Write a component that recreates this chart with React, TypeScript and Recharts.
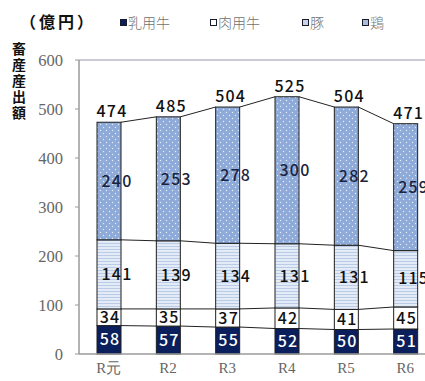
import React from "react";
import { BarChart, Bar, XAxis, YAxis, LabelList, ReferenceLine } from "recharts";

const categories = ["R元", "R2", "R3", "R4", "R5", "R6"];
const dairy = [58, 57, 55, 52, 50, 51];
const beef = [34, 35, 37, 42, 41, 45];
const pork = [141, 139, 134, 131, 131, 115];
const chicken = [240, 253, 278, 300, 282, 259];
const totals = [474, 485, 504, 525, 504, 471];
const yTicks = [0, 100, 200, 300, 400, 500, 600];
const seriesNames = ["乳用牛", "肉用牛", "豚", "鶏"];
const KEYS = ["dairy", "beef", "pork", "chicken"];

const data = categories.map((c, i) => ({
  name: c,
  dairy: dairy[i],
  beef: beef[i],
  pork: pork[i],
  chicken: chicken[i],
  total: totals[i],
}));

const CHART_W = 440;
const CHART_H = 381;
const MARGIN = { top: 60, right: 5, bottom: 0, left: 0 };
const Y_W = 79;
const BAND = (CHART_W - MARGIN.left - MARGIN.right - Y_W) / categories.length;

const SERIF = "'Liberation Serif', 'DejaVu Serif', serif";

const cum = (row: any, idx: number) => {
  let s = 0;
  for (let j = 0; j <= idx; j++) s += row[KEYS[j]];
  return s;
};

const makeShape = (keyIdx: number, fill: string) => (props: any) => {
  const { x, y, width, height, payload } = props;
  const idx = categories.indexOf(payload.name);
  const row = data[idx];
  const v = row[KEYS[keyIdx]];
  const k = height / v;
  const next = data[idx + 1];
  let line = null;
  if (next) {
    const dy = (cum(next, keyIdx) - cum(row, keyIdx)) * k;
    line = (
      <line x1={x + width} y1={y} x2={x + BAND} y2={y - dy} stroke="#222" strokeWidth={1} />
    );
  }
  return (
    <g>
      <rect x={x} y={y} width={width} height={height} fill={fill} stroke="#1e1e1e" strokeWidth={1} />
      {line}
    </g>
  );
};

const XTick = (props: any) => {
  const { x, y, payload } = props;
  return (
    <text
      x={x}
      y={y}
      dy={11}
      textAnchor="middle"
      style={{ fontFamily: SERIF, fontSize: 15, fill: "#666" }}
    >
      {payload.value}
    </text>
  );
};

const YTick = (props: any) => {
  const { x, y, payload } = props;
  return (
    <text
      x={x}
      y={y}
      dy={5.5}
      textAnchor="end"
      style={{ fontFamily: SERIF, fontSize: 16.5, fill: "#666" }}
    >
      {payload.value}
    </text>
  );
};

const labelFont = {
  fontFamily: "'Noto Sans CJK JP', 'Noto Sans', sans-serif",
  fontSize: 16,
  fontWeight: 500,
  letterSpacing: 1.2,
};

const legendItems = [
  { name: seriesNames[0], left: 120, fill: "#0b1f5c" },
  { name: seriesNames[1], left: 210, fill: "#ffffff" },
  { name: seriesNames[2], left: 302, fill: "#c9d6ea" },
  { name: seriesNames[3], left: 362, fill: "#a9bcdc" },
];

export default function App() {
  return (
    <div
      style={{
        position: "absolute",
        left: 0,
        top: 0,
        width: 425,
        height: 381,
        overflow: "hidden",
        background: "#fff",
      }}
    >
      <svg width={0} height={0} style={{ position: "absolute" }}>
        <defs>
          <pattern id="dots" width={6} height={6} patternUnits="userSpaceOnUse">
            <rect width={6} height={6} fill="#8eaad8" />
            <circle cx={1.5} cy={1.5} r={0.7} fill="#e8eef8" />
            <circle cx={4.5} cy={4.5} r={0.7} fill="#e8eef8" />
          </pattern>
          <pattern id="stripes" width={6} height={3} patternUnits="userSpaceOnUse">
            <rect width={6} height={3} fill="#e3ebf6" />
            <rect y={0} width={6} height={1} fill="#b9cbe6" />
          </pattern>
        </defs>
      </svg>

      {/* unit label */}
      <div
        style={{
          position: "absolute",
          left: 20,
          top: 11,
          fontFamily: "'Noto Sans CJK JP', sans-serif",
          fontWeight: 700,
          fontSize: 16,
          letterSpacing: 3,
          lineHeight: "20px",
          color: "#111",
          whiteSpace: "nowrap",
        }}
      >
        （億円）
      </div>

      {/* y axis title */}
      <div
        style={{
          position: "absolute",
          left: 11,
          top: 42,
          writingMode: "vertical-rl",
          fontFamily: "'Noto Sans CJK JP', sans-serif",
          fontWeight: 700,
          fontSize: 14,
          letterSpacing: 2,
          lineHeight: "16px",
          color: "#111",
          whiteSpace: "nowrap",
        }}
      >
        畜産産出額
      </div>

      {/* legend */}
      {legendItems.map((it) => (
        <div
          key={it.name}
          style={{
            position: "absolute",
            left: it.left,
            top: 13,
            display: "flex",
            alignItems: "center",
            fontFamily: "'Noto Sans CJK JP', sans-serif",
            fontWeight: 300,
            fontSize: 14,
            lineHeight: "18px",
            color: "#707070",
            whiteSpace: "nowrap",
          }}
        >
          <span
            style={{
              display: "inline-block",
              width: 5,
              height: 5,
              border: "1.5px solid #1a1a2a",
              background: it.fill,
              marginRight: 1,
            }}
          />
          {it.name}
        </div>
      ))}

      <div style={{ position: "absolute", left: 0, top: 0 }}>
        <BarChart width={CHART_W} height={CHART_H} data={data} margin={MARGIN} barSize={24}>
          <XAxis
            dataKey="name"
            axisLine={{ stroke: "#9a9a9a", strokeWidth: 1.5 }}
            tickLine={false}
            height={27}
            tick={<XTick />}
            interval={0}
          />
          <YAxis
            width={Y_W}
            domain={[0, 600]}
            ticks={yTicks}
            interval={0}
            axisLine={{ stroke: "#9a9a9a", strokeWidth: 1.5 }}
            tickLine={{ stroke: "#9a9a9a" }}
            tickSize={4}
            tickMargin={12}
            tick={<YTick />}
          />
          <ReferenceLine y={600} stroke="#b8b8c8" strokeWidth={1.5} />
          <Bar dataKey="dairy" stackId="a" isAnimationActive={false} shape={makeShape(0, "#0b1f5c")}>
            <LabelList dataKey="dairy" position="center" dx={1} fill="#ffffff" style={labelFont} />
          </Bar>
          <Bar dataKey="beef" stackId="a" isAnimationActive={false} shape={makeShape(1, "#ffffff")}>
            <LabelList dataKey="beef" position="center" dx={1} fill="#111" style={labelFont} />
          </Bar>
          <Bar dataKey="pork" stackId="a" isAnimationActive={false} shape={makeShape(2, "url(#stripes)")}>
            <LabelList dataKey="pork" position="center" dx={8} fill="#111" style={labelFont} />
          </Bar>
          <Bar dataKey="chicken" stackId="a" isAnimationActive={false} shape={makeShape(3, "url(#dots)")}>
            <LabelList dataKey="chicken" position="center" dx={8} fill="#1a2440" style={labelFont} />
            <LabelList dataKey="total" position="top" offset={5} dx={3} fill="#111" style={labelFont} />
          </Bar>
        </BarChart>
      </div>
    </div>
  );
}
